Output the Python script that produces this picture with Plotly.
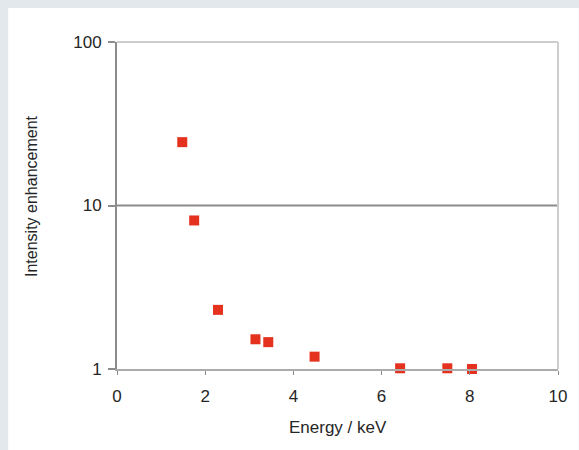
import plotly.graph_objects as go

energy_kev = [1.48, 1.75, 2.29, 3.14, 3.43, 4.48, 6.42, 7.49, 8.05]
enhancement = [24.4, 8.1, 2.3, 1.52, 1.46, 1.19, 1.01, 1.01, 1.0]
x_ticks = [0, 2, 4, 6, 8, 10]
y_ticks = [1, 10, 100]
y_tick_labels = ["1", "10", "100"]

W, H = 579, 450
L, R, T, B = 117, 16, 42, 81
pw, ph = W - L - R, H - T - B

def px_x(x):
    return (x - L) / pw

def px_y(y):
    return (H - B - y) / ph

fig = go.Figure()
fig.add_trace(go.Scatter(
    x=energy_kev, y=enhancement, mode="markers",
    marker=dict(symbol="square", size=10, color="#e5321e",
                line=dict(width=0)),
    showlegend=False, cliponaxis=False,
))

tickfont = dict(family="Liberation Sans, Arial, sans-serif", size=17, color="#262626")
ytitlefont = dict(family="Liberation Sans, Arial, sans-serif", size=16, color="#262626")
xtitlefont = dict(family="Liberation Sans, Arial, sans-serif", size=17, color="#262626")

fig.update_layout(
    width=W, height=H,
    margin=dict(l=L, r=R, t=T, b=B, pad=0),
    paper_bgcolor="#e3e8ec",
    plot_bgcolor="white",
    xaxis=dict(range=[0, 10], tickvals=x_ticks, ticktext=[str(v) for v in x_ticks],
               showgrid=False, zeroline=False, showline=True, linecolor="#ababab", linewidth=2,
               ticks="outside", ticklen=4, tickwidth=1, tickcolor="#8a8a8a",
               ticklabelstandoff=7, tickfont=tickfont),
    yaxis=dict(type="log", range=[0, 2], tickvals=y_ticks, ticktext=y_tick_labels,
               showgrid=False, zeroline=False, showline=True, linecolor="#8c8c8c", linewidth=2,
               ticks="outside", ticklen=7, tickwidth=2, tickcolor="#8c8c8c",
               ticklabelstandoff=3, tickfont=tickfont),
    shapes=[
        dict(type="rect", xref="paper", yref="paper", layer="below",
             x0=px_x(7), x1=px_x(W + 5), y0=px_y(H + 5), y1=px_y(8),
             fillcolor="white", line=dict(width=0)),
        dict(type="line", xref="paper", yref="paper", x0=0, x1=1, y0=1, y1=1,
             line=dict(color="#cdcdcd", width=2)),
        dict(type="line", xref="paper", yref="paper", x0=1, x1=1, y0=0, y1=1,
             line=dict(color="#cdcdcd", width=2)),
        dict(type="line", xref="paper", yref="y", x0=0, x1=1, y0=10, y1=10,
             line=dict(color="#8c8c8c", width=2), layer="below"),
    ],
    annotations=[
        dict(text="Intensity enhancement", xref="paper", yref="paper",
             x=px_x(30), y=px_y(196), textangle=-90, showarrow=False,
             font=ytitlefont, xanchor="center", yanchor="middle"),
        dict(text="Energy / keV", xref="paper", yref="paper",
             x=px_x(340), y=px_y(428), showarrow=False,
             font=xtitlefont, xanchor="center", yanchor="middle"),
    ],
)

fig.write_html("out.html")
